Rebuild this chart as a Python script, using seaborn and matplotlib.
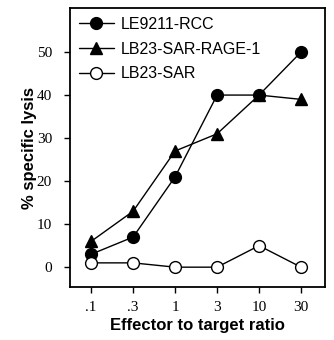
import matplotlib
matplotlib.use("Agg")
import matplotlib.pyplot as plt
import seaborn as sns
import pandas as pd
import numpy as np

# Values
ratios = [".1", ".3", "1", "3", "10", "30"]
le9211_rcc = [3, 7, 21, 40, 40, 50]
lb23_sar_rage1 = [6, 13, 27, 31, 40, 39]
lb23_sar = [1, 1, 0, 0, 5, 0]
series_names = ["LE9211-RCC", "LB23-SAR-RAGE-1", "LB23-SAR"]
y_ticks = [0, 10, 20, 30, 40, 50]

# Long format table for seaborn
pos = np.arange(len(ratios))
df = pd.DataFrame({
    "pos": np.tile(pos, 3),
    "lysis": le9211_rcc + lb23_sar_rage1 + lb23_sar,
    "series": np.repeat(series_names, len(ratios)),
})

sns.set_style("ticks", {"text.color": "black", "axes.labelcolor": "black",
                        "xtick.color": "black", "ytick.color": "black",
                        "axes.edgecolor": "black"})
fig = plt.figure(figsize=(3.34, 3.40), dpi=100)
ax = fig.add_axes([0.21, 0.156, 0.763, 0.82])

styles = {
    "LE9211-RCC": dict(marker="o", mfc="black"),
    "LB23-SAR-RAGE-1": dict(marker="^", mfc="black"),
    "LB23-SAR": dict(marker="o", mfc="white"),
}
for name in series_names:
    sub = df[df["series"] == name]
    st = styles[name]
    sns.lineplot(data=sub, x="pos", y="lysis", ax=ax, color="black", lw=1.0,
                 marker=st["marker"], markersize=8.5, markerfacecolor=st["mfc"],
                 markeredgecolor="black", markeredgewidth=1.0, label=name)

ax.set_xlim(-0.5, 5.57)
ax.set_ylim(-4.6, 60.2)
ax.set_xticks(pos)
ax.set_xticklabels(ratios, family="Liberation Serif", fontsize=11)
ax.set_yticks(y_ticks)
ax.set_yticklabels([str(v) for v in y_ticks], family="Liberation Serif", fontsize=11)
ax.tick_params(direction="out", length=4, width=1, pad=6)
ax.tick_params(axis="y", pad=9)

for s in ax.spines.values():
    s.set_linewidth(1.3)
    s.set_visible(True)

ax.set_xlabel("Effector to target ratio", family="Liberation Sans",
              fontweight="bold", fontsize=12)
ax.xaxis.set_label_coords(0.5, -0.11)
ax.set_ylabel("% specific lysis", family="Liberation Sans",
              fontweight="bold", fontsize=12)
ax.yaxis.set_label_coords(-0.13, 0.5)

leg = ax.legend(loc="upper left", frameon=False, handlelength=2.2,
                handletextpad=0.4, labelspacing=0.6,
                prop={"family": "Liberation Sans", "size": 11.5},
                borderaxespad=0.15, bbox_to_anchor=(0.0, 1.0))

fig.savefig("out.png", dpi=100)
